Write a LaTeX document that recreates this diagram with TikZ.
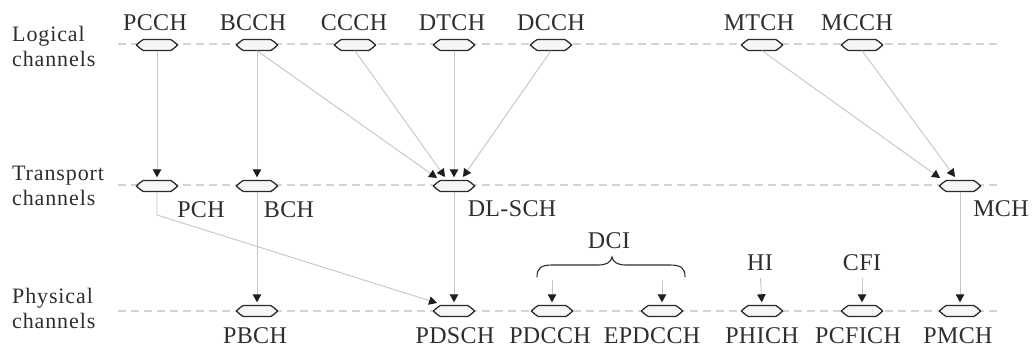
\documentclass[tikz,border=0pt]{standalone}
\usepackage{fontspec}
\setmainfont{Liberation Serif}
\usetikzlibrary{arrows.meta}
\definecolor{ovaldraw}{HTML}{2A2A2A}
\definecolor{ovalfill}{HTML}{F6F6F6}
\definecolor{txt}{HTML}{2E2E2E}
\definecolor{rowc}{HTML}{D4D4D4}
\definecolor{linec}{HTML}{C4C4C4}
\definecolor{tipc}{HTML}{1E1E1E}
\begin{document}
\begin{tikzpicture}[x=1pt,y=-1pt,
  chan/.style={rectangle, minimum width=41pt, minimum height=11pt, inner sep=0pt, draw=none},
  ovalsty/.style={draw=ovaldraw, fill=ovalfill, line width=1.3pt, line join=round},
  lab/.style={font=\fontsize{24}{26}\selectfont\addfontfeature{LetterSpace=1.5}, text=txt, inner sep=0pt, anchor=base},
  side/.style={font=\fontsize{22}{25}\selectfont\addfontfeature{LetterSpace=4}, text=txt, align=left, anchor=north west, inner sep=0pt},
  row/.style={draw=rowc, line width=1.1pt, dash pattern=on 8pt off 5pt},
  conn/.style={draw=linec, line width=0.9pt, -{Triangle[length=8pt,width=8.5pt,color=tipc]}},
  brc/.style={draw=txt, line width=1.1pt}
]
\useasboundingbox (0,0) rectangle (1035,351);
% rows
\draw[row] (118,44) -- (1000,44);
\draw[row] (118,185) -- (1000,185);
\draw[row] (118,311) -- (1000,311);
% side labels
\node[side] (lgl) at (12,26) {Logical\\channels};
\node[side] (trl) at (12,166) {Transport\\channels};
\node[side] (phl) at (12,288) {Physical\\channels};
% logical channels
\node[chan] (pcch) at (157,45) {};
\node[chan] (bcch) at (257,45) {};
\node[chan] (ccch) at (355,45) {};
\node[chan] (dtch) at (454,45) {};
\node[chan] (dcch) at (551,45) {};
\node[chan] (mtch) at (762,45) {};
\node[chan] (mcch) at (862,45) {};
\node[lab] (pcchl) at (155,30) {PCCH};
\node[lab] (bcchl) at (253,30) {BCCH};
\node[lab] (ccchl) at (354,30) {CCCH};
\node[lab] (dtchl) at (452,30) {DTCH};
\node[lab] (dcchl) at (551,30) {DCCH};
\node[lab] (mtchl) at (759,30) {MTCH};
\node[lab] (mcchl) at (857,30) {MCCH};
% transport channels
\node[chan] (pch) at (157,186) {};
\node[chan] (bch) at (257,186) {};
\node[chan] (dlsch) at (454,186) {};
\node[chan] (mch) at (960,186) {};
\node[lab] (pchl) at (201,217) {PCH};
\node[lab] (bchl) at (289,217) {BCH};
\node[lab] (dlschl) at (512,216) {DL-SCH};
\node[lab] (mchl) at (1001,216) {MCH};
% physical channels
\node[chan] (pbch) at (257,311) {};
\node[chan] (pdsch) at (454,311) {};
\node[chan] (pdcch) at (552,311) {};
\node[chan] (epdcch) at (662,311) {};
\node[chan] (phich) at (762,311) {};
\node[chan] (pcfich) at (862,311) {};
\node[chan] (pmch) at (960,311) {};
\node[lab] (pbchl) at (255,343) {PBCH};
\node[lab] (pdschl) at (455,343) {PDSCH};
\node[lab] (pdcchl) at (550,343) {PDCCH};
\node[lab] (epdcchl) at (652,343) {EPDCCH};
\node[lab] (phichl) at (762,343) {PHICH};
\node[lab] (pcfichl) at (858,343) {PCFICH};
\node[lab] (pmchl) at (958,343) {PMCH};
% channel outlines
\foreach \n in {pcch,bcch,ccch,dtch,dcch,mtch,mcch,pch,bch,dlsch,mch,pbch,pdsch,pdcch,epdcch,phich,pcfich,pmch}{
  \draw[ovalsty] (\n.west)
    -- ([xshift=4pt,yshift=3.5pt]\n.west) -- ([xshift=7pt,yshift=5.5pt]\n.west)
    -- ([xshift=-7pt,yshift=5.5pt]\n.east) -- ([xshift=-4pt,yshift=3.5pt]\n.east)
    -- (\n.east)
    -- ([xshift=-4pt,yshift=-3.5pt]\n.east) -- ([xshift=-7pt,yshift=-5.5pt]\n.east)
    -- ([xshift=7pt,yshift=-5.5pt]\n.west) -- ([xshift=4pt,yshift=-3.5pt]\n.west)
    -- cycle;
}
% info labels
\node[lab] (dci) at (609,248) {DCI};
\node[lab] (hi) at (760,270) {HI};
\node[lab] (cfi) at (862,270) {CFI};
% brace
\draw[brc] (537,277) .. controls (537,268) and (541,265) .. (552,265) -- (598,265)
  .. controls (607,265) and (611,262) .. (612,257)
  .. controls (613,262) and (617,265) .. (626,265) -- (670,265)
  .. controls (681,265) and (685,268) .. (685,277);
\coordinate (dcia) at (552,280);
\coordinate (dcib) at (662,280);
% tips near DL-SCH and MCH
\coordinate (t1) at (437,178);
\coordinate (t2) at (445,177);
\coordinate (t4) at (463,177);
\coordinate (m1) at (940,178);
\coordinate (m2) at (955,177);
\coordinate (pbend) at (157,215);
\coordinate (pt) at (437,303);
% connectors
\draw[conn, shorten >=3pt] (pcch.south) -- (pch.north);
\draw[conn, shorten >=3pt] (bcch.south) -- (bch.north);
\draw[conn] (bcch.south) -- (t1);
\draw[conn] (ccch.south) -- (t2);
\draw[conn, shorten >=3pt] (dtch.south) -- (dlsch.north);
\draw[conn] (dcch.south) -- (t4);
\draw[conn] (mtch.south) -- (m1);
\draw[conn] (mcch.south) -- (m2);
\draw[conn] (pch.south) -- (pbend) -- (pt);
\draw[conn, shorten >=3pt] (bch.south) -- (pbch.north);
\draw[conn, shorten >=3pt] (dlsch.south) -- (pdsch.north);
\draw[conn, shorten >=3pt] (mch.south) -- (pmch.north);
\draw[conn, shorten >=3pt] (dcia) -- (pdcch.north);
\draw[conn, shorten >=3pt] (dcib) -- (epdcch.north);
\draw[conn, shorten <=8pt, shorten >=3pt] (hi.south) -- (phich.north);
\draw[conn, shorten <=8pt, shorten >=3pt] (cfi.south) -- (pcfich.north);
\end{tikzpicture}
\end{document}
